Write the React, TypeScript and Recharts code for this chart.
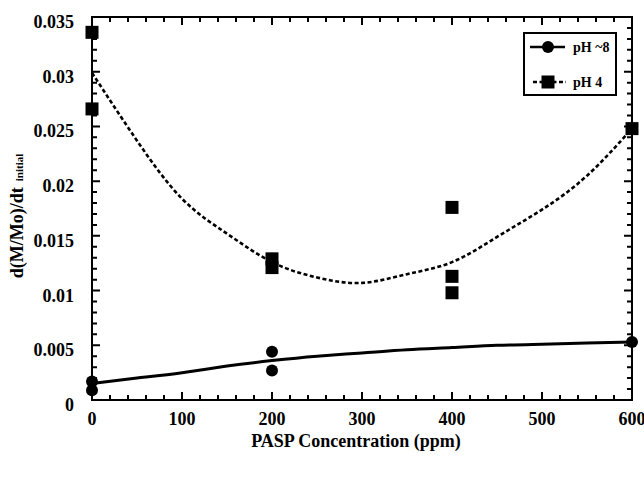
import React from "react";
import { ComposedChart, XAxis, YAxis, Scatter, Line, Label, ReferenceArea } from "recharts";

// measured rates, pH ~8 (circles)
const ph8X = [0, 0, 200, 200, 600];
const ph8Y = [0.0017, 0.0009, 0.0044, 0.0027, 0.0053];

// measured rates, pH 4 (squares)
const ph4X = [0, 0, 200, 200, 400, 400, 400, 600];
const ph4Y = [0.0336, 0.0266, 0.0129, 0.0121, 0.0176, 0.0113, 0.0098, 0.0248];

// fitted curves
const fitX = [0, 50, 100, 150, 200, 250, 300, 350, 400, 450, 500, 550, 600];
const ph8Fit = [0.0015, 0.002, 0.0025, 0.0031, 0.0036, 0.004, 0.0043, 0.0046, 0.0048, 0.005, 0.0051, 0.0052, 0.0053];
const ph4Fit = [0.0299, 0.0237, 0.0184, 0.0152, 0.0126, 0.0112, 0.0107, 0.0115, 0.0126, 0.0149, 0.0174, 0.0205, 0.0248];

const seriesNames = ["pH ~8", "pH 4"];
const xMajorTicks = [0, 100, 200, 300, 400, 500, 600];
const yMajorTicks = [0, 0.005, 0.01, 0.015, 0.02, 0.025, 0.03, 0.035];

// minor ticks every 20 ppm / 0.001
const xTicks = Array.from({ length: 31 }, (_, i) => i * 20);
const yTicks = Array.from({ length: 36 }, (_, i) => Number((i * 0.001).toFixed(3)));

const toPoints = (xs: number[], ys: number[]) => xs.map((x, i) => ({ x, y: ys[i] }));
const ph8Points = toPoints(ph8X, ph8Y);
const ph4Points = toPoints(ph4X, ph4Y);
const ph8Curve = toPoints(fitX, ph8Fit);
const ph4Curve = toPoints(fitX, ph4Fit);

const W = 644;
const H = 480;
const margin = { top: 17, right: 12, bottom: 0, left: 0 };
const yAxisW = 92;
const xAxisH = 80;
const plotW = W - margin.left - margin.right - yAxisW;
const plotH = H - margin.top - margin.bottom - xAxisH;
const X_MAX = 600;
const Y_MAX = 0.035;

const serif = "'Liberation Serif', 'Times New Roman', serif";
const labelStyle = { fontFamily: serif, fontWeight: 700, fontSize: 18, fill: "#000" };

const isXMajor = (v: number) => xMajorTicks.includes(v);
const isYMajor = (v: number) => yMajorTicks.some((t) => Math.abs(t - v) < 1e-9);

const MAJOR = 8;
const MINOR = 5;

// each tick draws its inward mark on both opposite sides of the frame, plus its label if major
const BottomTick = (props: any) => {
  const { x, y, payload } = props;
  const major = isXMajor(payload.value);
  const len = major ? MAJOR : MINOR;
  return (
    <g>
      <path d={`M${x},${y}V${y - len}M${x},${y - plotH}V${y - plotH + len}`} stroke="#000" strokeWidth={2} fill="none" />
      {major && (
        <text x={x} y={y + 25} textAnchor="middle" style={labelStyle}>
          {payload.value}
        </text>
      )}
    </g>
  );
};

const LeftTick = (props: any) => {
  const { x, y, payload } = props;
  const major = isYMajor(payload.value);
  const len = major ? MAJOR : MINOR;
  return (
    <g>
      <path d={`M${x},${y}H${x + len}M${x + plotW},${y}H${x + plotW - len}`} stroke="#000" strokeWidth={2} fill="none" />
      {major && (
        <text x={x - 18} y={y + 11} textAnchor="end" style={labelStyle}>
          {String(payload.value)}
        </text>
      )}
    </g>
  );
};

const Square = ({ cx, cy }: any) => <rect x={cx - 6.5} y={cy - 6.5} width={13} height={13} fill="#000" />;
const Dot = ({ cx, cy }: any) => <circle cx={cx} cy={cy} r={6} fill="#000" />;

const LegendBox = () => (
  <svg width={94} height={64} style={{ position: "absolute", left: 523, top: 32 }}>
    <rect x={1} y={1} width={92} height={62} fill="#fff" stroke="#000" strokeWidth={2} />
    <line x1={7} x2={42} y1={15} y2={15} stroke="#000" strokeWidth={2.5} />
    <circle cx={25} cy={15} r={6} fill="#000" />
    <text x={50} y={20} style={{ ...labelStyle, fontSize: 14 }}>
      {seriesNames[0]}
    </text>
    <line x1={10} x2={43} y1={50} y2={50} stroke="#000" strokeWidth={2.5} strokeDasharray="4 2.5" />
    <rect x={18.5} y={43.5} width={13} height={13} fill="#000" />
    <text x={50} y={55} style={{ ...labelStyle, fontSize: 14 }}>
      {seriesNames[1]}
    </text>
  </svg>
);

const XTitle = ({ viewBox }: any) => (
  <text x={viewBox.x + viewBox.width / 2 - 6} y={viewBox.y + 47} textAnchor="middle" style={labelStyle}>
    PASP Concentration (ppm)
  </text>
);

const YTitle = () => (
  <text x={23} y={216} transform="rotate(-90, 23, 216)" textAnchor="middle" style={labelStyle}>
    d(M/Mo)/dt
    <tspan dx={6} style={{ fontSize: 11 }}>
      initial
    </tspan>
  </text>
);

export default function App() {
  return (
    <div style={{ position: "absolute", left: 0, top: 0, width: W, height: H, background: "#fff" }}>
      <ComposedChart width={W} height={H} margin={margin}>
        {/* plot frame */}
        <ReferenceArea x1={0} x2={X_MAX} y1={0} y2={Y_MAX} fill="none" stroke="#000" strokeWidth={2} />
        <XAxis
          dataKey="x"
          type="number"
          domain={[0, X_MAX]}
          ticks={xTicks}
          interval={0}
          height={xAxisH}
          tickSize={0}
          tickMargin={0}
          tickLine={false}
          tick={BottomTick}
          axisLine={{ stroke: "#000", strokeWidth: 2 }}
        >
          <Label content={<XTitle />} />
        </XAxis>
        <YAxis
          type="number"
          domain={[0, Y_MAX]}
          ticks={yTicks}
          interval={0}
          width={yAxisW}
          tickSize={0}
          tickMargin={0}
          tickLine={false}
          tick={LeftTick}
          axisLine={{ stroke: "#000", strokeWidth: 2 }}
        >
          <Label content={<YTitle />} />
        </YAxis>
        <Line
          data={ph4Curve}
          dataKey="y"
          type="natural"
          stroke="#000"
          strokeWidth={2.6}
          strokeDasharray="4 2.5"
          dot={false}
          activeDot={false}
          isAnimationActive={false}
        />
        <Line
          data={ph8Curve}
          dataKey="y"
          type="natural"
          stroke="#000"
          strokeWidth={3}
          dot={false}
          activeDot={false}
          isAnimationActive={false}
        />
        <Scatter name={seriesNames[1]} data={ph4Points} dataKey="y" shape={<Square />} isAnimationActive={false} />
        <Scatter name={seriesNames[0]} data={ph8Points} dataKey="y" shape={<Dot />} isAnimationActive={false} />
      </ComposedChart>
      <LegendBox />
    </div>
  );
}
